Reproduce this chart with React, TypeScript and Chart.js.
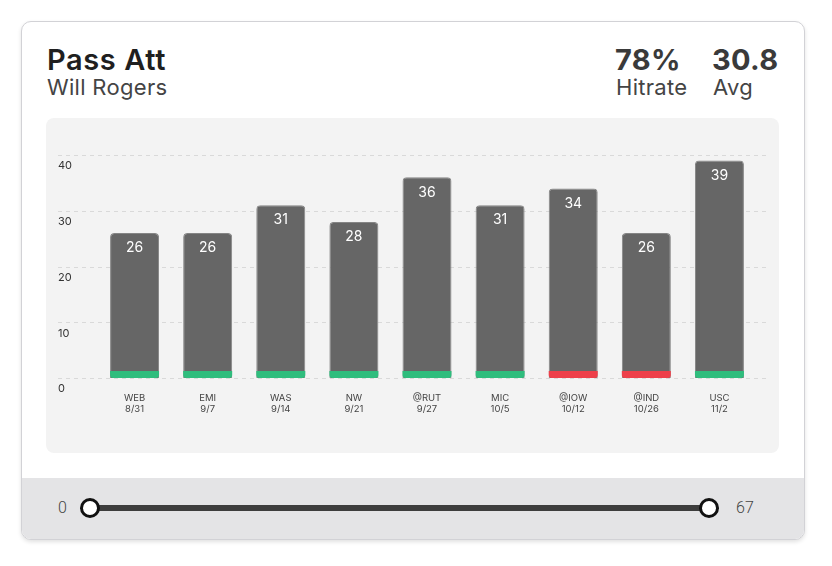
import React, { useEffect, useRef } from "react";
import { Chart, registerables } from "chart.js";

Chart.register(...registerables);

const opponents = ["WEB", "EMI", "WAS", "NW", "@RUT", "MIC", "@IOW", "@IND", "USC"];
const gameDates = ["8/31", "9/7", "9/14", "9/21", "9/27", "10/5", "10/12", "10/26", "11/2"];
const passAttempts = [26, 26, 31, 28, 36, 31, 34, 26, 39];
const results = ["hit", "hit", "hit", "hit", "hit", "hit", "miss", "miss", "hit"];
const yMin = 0;
const yMax = 40;
const yStep = 10;
const markerHeight = 1.25;
const sliderMin = 0;
const sliderMax = 67;

const FONT = "Inter, 'Noto Sans', sans-serif";

const gridPlugin = {
  id: "dashedGrid",
  beforeDatasetsDraw(chart: any) {
    const { ctx, chartArea, scales } = chart;
    const y = scales.y;
    ctx.save();
    ctx.strokeStyle = "#d9d9d9";
    ctx.lineWidth = 1;
    ctx.setLineDash([4, 4]);
    y.ticks.forEach((t: any) => {
      const py = Math.round(y.getPixelForValue(t.value)) + 0.5;
      ctx.beginPath();
      ctx.moveTo(12, py);
      ctx.lineTo(chartArea.right + 12, py);
      ctx.stroke();
    });
    ctx.restore();
  },
};

const valueLabelPlugin = {
  id: "valueLabels",
  afterDatasetsDraw(chart: any) {
    const { ctx } = chart;
    const meta = chart.getDatasetMeta(0);
    ctx.save();
    ctx.fillStyle = "#ffffff";
    ctx.font = `400 14px ${FONT}`;
    ctx.textAlign = "center";
    ctx.textBaseline = "middle";
    meta.data.forEach((el: any, i: number) => {
      ctx.fillText(String(passAttempts[i]), el.x, el.y + 15);
    });
    ctx.restore();
  },
};

function BarChart() {
  const ref = useRef<HTMLCanvasElement | null>(null);
  useEffect(() => {
    if (!ref.current) return;
    const chart = new Chart(ref.current, {
      type: "bar",
      data: {
        labels: opponents.map((o, i) => [o, gameDates[i]]),
        datasets: [
          {
            label: "Pass Att",
            data: passAttempts,
            backgroundColor: "#666666",
            borderColor: "#858585",
            borderWidth: 1,
            borderRadius: { topLeft: 4, topRight: 4, bottomLeft: 0, bottomRight: 0 },
            borderSkipped: "start",
            grouped: false,
            order: 1,
            categoryPercentage: 1,
            barPercentage: 0.67,
          } as any,
          {
            label: "Result",
            data: passAttempts.map(() => markerHeight),
            backgroundColor: results.map((r) => (r === "hit" ? "#2fbd7d" : "#ee3f4a")),
            borderWidth: 0,
            borderRadius: { topLeft: 0, topRight: 0, bottomLeft: 3, bottomRight: 3 },
            borderSkipped: false,
            grouped: false,
            order: 0,
            categoryPercentage: 1,
            barPercentage: 0.67,
          } as any,
        ],
      },
      options: {
        animation: false,
        responsive: false,
        devicePixelRatio: 1,
        layout: { padding: { left: 12, right: 23, top: 37, bottom: 0 } },
        plugins: { legend: { display: false }, tooltip: { enabled: false } },
        scales: {
          x: {
            grid: { display: false },
            border: { display: false },
            ticks: {
              color: "#444444",
              font: { family: FONT, size: 9.5, lineHeight: 1.2 },
              padding: 6,
              maxRotation: 0,
              autoSkip: false,
            },
            afterFit: (s: any) => {
              s.height = 75;
            },
          },
          y: {
            min: yMin,
            max: yMax,
            grid: { display: false },
            border: { display: false },
            ticks: {
              stepSize: yStep,
              labelOffset: 11,
              crossAlign: "far",
              padding: 0,
              color: "#333333",
              font: { family: FONT, size: 11 },
            },
            afterFit: (s: any) => {
              s.width = 40;
            },
          },
        },
      } as any,
      plugins: [gridPlugin, valueLabelPlugin],
    });
    return () => chart.destroy();
  }, []);
  return <canvas ref={ref} width={733} height={335} style={{ display: "block" }} />;
}

export default function App() {
  const abs = (l: number, t: number, extra: any = {}) => ({ position: "absolute" as const, left: l, top: t, ...extra });
  return (
    <div style={{ position: "absolute", left: 0, top: 0, width: 832, height: 566, background: "#ffffff", fontFamily: FONT, overflow: "hidden" }}>
      <div
        style={abs(21, 21, {
          width: 782,
          height: 517,
          border: "1.5px solid #d2d2d6",
          borderRadius: 10,
          boxShadow: "0 2px 4px rgba(0,0,0,0.12)",
          overflow: "hidden",
          background: "#ffffff",
        })}
      >
        <div style={abs(0, 456, { width: 784, height: 64, background: "#e4e4e6" })} />
      </div>
      <div style={abs(47, 42, { fontSize: 29, fontWeight: 600, color: "#1f1f1f", lineHeight: "36px", letterSpacing: 0.6 })}>Pass Att</div>
      <div style={abs(47, 73, { fontSize: 22, fontWeight: 400, color: "#444444", lineHeight: "28px", letterSpacing: 0.3 })}>Will Rogers</div>

      <div style={abs(615, 42, { fontSize: 29, fontWeight: 700, color: "#3a3a3a", lineHeight: "36px", letterSpacing: 0.3 })}>78%</div>
      <div style={abs(616, 73, { fontSize: 22, fontWeight: 400, color: "#444444", lineHeight: "28px", letterSpacing: 0.3 })}>Hitrate</div>
      <div style={abs(712, 42, { fontSize: 29, fontWeight: 700, color: "#3a3a3a", lineHeight: "36px", letterSpacing: 0.3 })}>30.8</div>
      <div style={abs(713, 73, { fontSize: 22, fontWeight: 400, color: "#444444", lineHeight: "28px", letterSpacing: 0.3 })}>Avg</div>

      <div style={abs(46, 118, { width: 733, height: 335, background: "#f3f3f3", borderRadius: 8 })} />
      <div style={abs(46, 118, { width: 733, height: 335 })}>
        <BarChart />
      </div>

      <div style={abs(58, 498, { fontSize: 16, fontWeight: 300, color: "#444444", fontFamily: "Roboto, sans-serif", lineHeight: "20px" })}>{sliderMin}</div>
      <div style={abs(736, 498, { fontSize: 16, fontWeight: 300, color: "#444444", fontFamily: "Roboto, sans-serif", lineHeight: "20px" })}>{sliderMax}</div>
      <div style={abs(90, 505, { width: 619, height: 6, background: "#3d3d3d" })} />
      <div style={abs(80, 498, { width: 14, height: 14, borderRadius: "50%", background: "#ffffff", border: "3px solid #111111" })} />
      <div style={abs(699, 498, { width: 14, height: 14, borderRadius: "50%", background: "#ffffff", border: "3px solid #111111" })} />
    </div>
  );
}
